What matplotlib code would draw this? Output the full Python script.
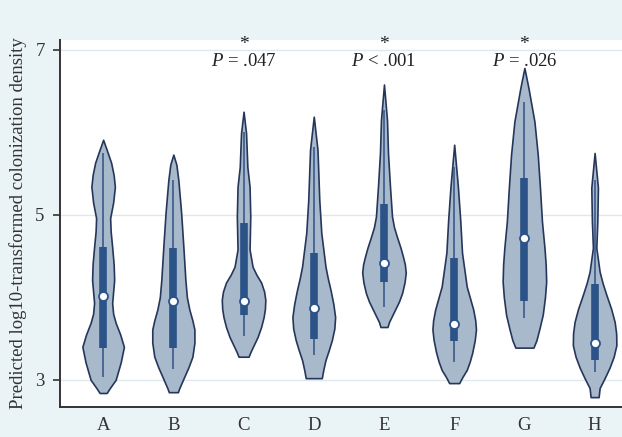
import numpy as np
import matplotlib
matplotlib.use("Agg")
import matplotlib.pyplot as plt

# groups and the P-value notes
groups = ["A", "B", "C", "D", "E", "F", "G", "H"]
notes = {"C": "= .047", "E": "< .001", "G": "= .026"}

# violin outlines: level (log10 density) and relative density
A_levels = [5.91, 5.79, 5.63, 5.48, 5.34, 5.15, 4.96, 4.80, 4.61, 4.40, 4.21, 3.93, 3.80, 3.69, 3.55, 3.40, 3.21, 3.00, 2.90, 2.84]
A_dens = [0, 3.5, 8, 10.5, 11.7, 10, 7, 7.5, 9, 10.5, 11, 9, 10, 12.5, 17, 20.7, 17.5, 12.5, 6.7, 3.5]
B_levels = [5.73, 5.61, 5.42, 5.02, 4.61, 4.21, 4.00, 3.85, 3.72, 3.61, 3.45, 3.28, 3.15, 3.04, 2.90, 2.85]
B_dens = [0, 3, 5, 7.8, 10, 12, 13.5, 16, 19, 21, 21, 19, 15, 11, 6, 4.5]
C_levels = [6.25, 5.99, 5.58, 5.34, 4.98, 4.58, 4.37, 4.27, 4.18, 4.07, 3.97, 3.86, 3.76, 3.64, 3.52, 3.34, 3.28]
C_dens = [0, 2.5, 3.8, 6, 6.7, 6, 9, 13, 17.5, 20.5, 21.7, 21.3, 20, 17.5, 14, 7, 5]
D_levels = [6.19, 5.79, 5.18, 4.78, 4.37, 4.23, 4.09, 3.92, 3.76, 3.62, 3.48, 3.36, 3.24, 3.12, 3.02]
D_dens = [0, 3.7, 5.5, 7.5, 11.7, 14, 16.7, 19.5, 21.3, 20.5, 18, 15, 11.7, 9.5, 8]
E_levels = [6.58, 6.15, 5.75, 5.34, 4.98, 4.85, 4.73, 4.60, 4.49, 4.40, 4.30, 4.18, 4.05, 3.95, 3.85, 3.70, 3.64]
E_dens = [0, 3, 4, 6, 8, 10, 13, 16.5, 19, 20.8, 21.7, 20.5, 18, 15, 11, 5, 3.5]
F_levels = [5.85, 5.34, 4.94, 4.54, 4.13, 3.98, 3.85, 3.72, 3.61, 3.48, 3.33, 3.22, 3.12, 3.03, 2.96]
F_dens = [0, 3.7, 6, 7.8, 12.5, 16, 19, 21, 21.7, 20.5, 18, 15.5, 12.5, 8, 5]
G_levels = [6.78, 6.54, 6.13, 5.73, 5.33, 4.92, 4.60, 4.40, 4.19, 4.00, 3.79, 3.62, 3.48, 3.39]
G_dens = [0, 4, 10, 13.3, 15.5, 17.5, 20, 21.2, 21.7, 20.5, 18.3, 15, 12, 9]
H_levels = [5.75, 5.33, 4.92, 4.60, 4.31, 4.17, 4.03, 3.86, 3.70, 3.56, 3.42, 3.28, 3.15, 3.02, 2.90, 2.79]
H_dens = [0, 3.3, 2.7, 1.7, 5, 8, 11.7, 16.5, 20, 21.5, 21.7, 19, 15, 10, 5, 4]

# box plot summaries
q1 = [3.39, 3.39, 3.78, 3.50, 4.18, 3.47, 3.95, 3.24]
q3 = [4.61, 4.60, 4.90, 4.54, 5.13, 4.48, 5.45, 4.16]
medians = [4.01, 3.96, 3.95, 3.87, 4.42, 3.68, 4.72, 3.45]
whisk_lo = [3.04, 3.13, 3.53, 3.30, 3.88, 3.22, 3.75, 3.10]
whisk_hi = [5.75, 5.42, 6.00, 5.82, 6.27, 5.58, 6.37, 5.42]

levels = [A_levels, B_levels, C_levels, D_levels, E_levels, F_levels, G_levels, H_levels]
dens = [A_dens, B_dens, C_dens, D_dens, E_dens, F_dens, G_dens, H_dens]

plt.rcParams["font.family"] = ["Liberation Serif", "DejaVu Serif"]
plt.rcParams["mathtext.fontset"] = "custom"
plt.rcParams["mathtext.rm"] = "Liberation Serif"
plt.rcParams["mathtext.it"] = "Liberation Serif:italic"

bg = "#eaf4f6"
fill_c = "#a8b9cc"
edge_c = "#26365a"
box_c = "#2c5388"

fig = plt.figure(figsize=(6.22, 4.37), dpi=100, facecolor=bg)
ax = fig.add_axes([0.0965, 0.0686, 0.9035, 0.84])
ax.set_facecolor("white")

scale = 1 / 70.0
pos = np.arange(1, len(groups) + 1)
for i, p in enumerate(pos):
    y = np.array(levels[i])
    w = np.array(dens[i]) * scale
    ax.fill_betweenx(y, p - w, p + w, facecolor=fill_c, edgecolor=edge_c, lw=1.2, zorder=3)
    ax.vlines(p, whisk_lo[i], whisk_hi[i], color="#3a5a8c", lw=1.2, zorder=4)
    ax.vlines(p, q1[i], q3[i], color=box_c, lw=5.5, zorder=5)
    ax.scatter(p, medians[i], s=42, facecolor="white", edgecolor=box_c, lw=1.3, zorder=6)

for g, txt in notes.items():
    p = groups.index(g) + 1
    ax.text(p, 6.965, "*", ha="center", va="bottom", fontsize=14, color="#222222")
    ax.text(p, 6.96, r"$\mathit{P}$ " + txt, ha="center", va="top", fontsize=13.5, color="#222222")

ax.set_xlim(0.386, 8.39)
ax.set_ylim(2.67, 7.12)
ax.set_yticks([3, 5, 7])
ax.set_xticks(pos)
ax.set_xticklabels(groups)
ax.yaxis.grid(True, color="#dde9ee", lw=1.0)
ax.set_axisbelow(True)
for s in ["top", "right"]:
    ax.spines[s].set_visible(False)
for s in ["left", "bottom"]:
    ax.spines[s].set_color("#333333")
    ax.spines[s].set_linewidth(1.4)
ax.tick_params(axis="y", length=5, width=1.2, color="#333333", labelsize=13.5, labelcolor="#333333", pad=6)
ax.tick_params(axis="x", length=0, labelsize=13.5, labelcolor="#333333", pad=7)
ax.set_ylabel("Predicted log10-transformed colonization density", fontsize=13.5, color="#333333", labelpad=6)

fig.savefig("out.png", dpi=100, facecolor=bg)
